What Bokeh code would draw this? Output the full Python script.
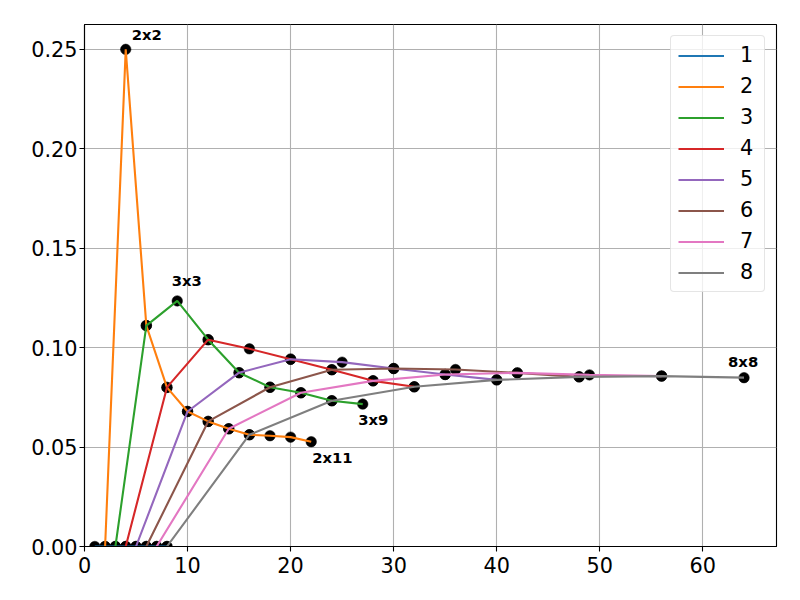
from bokeh.plotting import figure
from bokeh.models import Range1d, FixedTicker, PrintfTickFormatter
from bokeh.core.properties import value
from bokeh.embed import file_html
from bokeh.resources import INLINE

# ---- data ----
series_names = ["1", "2", "3", "4", "5", "6", "7", "8"]
x1 = [1, 2, 3, 4, 5, 6, 7, 8]
y1 = [0.0, 0.0, 0.0, 0.0, 0.0, 0.0, 0.0, 0.0]
x2 = [2, 4, 6, 8, 10, 12, 14, 16, 18, 20, 22]
y2 = [0.0, 0.25, 0.1111, 0.0800, 0.0679, 0.0629, 0.0592, 0.0562, 0.0557, 0.0550, 0.0527]
x3 = [3, 6, 9, 12, 15, 18, 21, 24, 27]
y3 = [0.0, 0.1111, 0.1235, 0.1040, 0.0874, 0.0801, 0.0773, 0.0733, 0.0716]
x4 = [4, 8, 12, 16, 20, 24, 28, 32]
y4 = [0.0, 0.0800, 0.1040, 0.0994, 0.0942, 0.0889, 0.0833, 0.0803]
x5 = [5, 10, 15, 20, 25, 30, 35, 40]
y5 = [0.0, 0.0679, 0.0874, 0.0942, 0.0927, 0.0895, 0.0865, 0.0838]
x6 = [6, 12, 18, 24, 30, 36, 42, 48]
y6 = [0.0, 0.0629, 0.0801, 0.0889, 0.0895, 0.0890, 0.0873, 0.0853]
x7 = [7, 14, 21, 28, 35, 42, 49, 56]
y7 = [0.0, 0.0592, 0.0773, 0.0833, 0.0865, 0.0873, 0.0863, 0.0857]
x8 = [8, 16, 24, 32, 40, 48, 56, 64]
y8 = [0.0, 0.0562, 0.0733, 0.0803, 0.0838, 0.0853, 0.0857, 0.0849]

x_ticks = [0, 10, 20, 30, 40, 50, 60]
y_ticks = [0.0, 0.05, 0.10, 0.15, 0.20, 0.25]

# annotations: (label, series index, point index)
annotations = [("2x2", 1, 1), ("3x3", 2, 2), ("3x9", 2, 8), ("2x11", 1, 10), ("8x8", 7, 7)]

# ---- styling ----
colors = ["#1f77b4", "#ff7f0e", "#2ca02c", "#d62728", "#9467bd", "#8c564b", "#e377c2", "#7f7f7f"]
label_offsets = {"2x2": (6, -14.5), "3x3": (-5.5, -20), "3x9": (-4.5, 15.5), "2x11": (1, 15.5), "8x8": (-16, -16.5)}
FONT = "DejaVu Sans"

xs = [x1, x2, x3, x4, x5, x6, x7, x8]
ys = [y1, y2, y3, y4, y5, y6, y7, y8]

p = figure(width=784, height=584, output_backend="svg", toolbar_location=None,
           x_range=Range1d(0, 67.15), y_range=Range1d(0, 0.2625),
           min_border_left=84, min_border_right=8, min_border_top=24, min_border_bottom=38)
p.background_fill_color = "white"
p.border_fill_color = "white"
p.outline_line_color = "black"
p.outline_line_width = 1.1

for ax in (p.xaxis[0], p.yaxis[0]):
    ax.axis_line_color = "black"
    ax.axis_line_width = 1.1
    ax.major_tick_out = 5
    ax.major_tick_in = 0
    ax.major_tick_line_width = 1.1
    ax.minor_tick_line_color = None
    ax.major_label_text_font = FONT
    ax.major_label_text_font_size = "20.8px"
    ax.major_label_text_color = "black"

p.xaxis.ticker = FixedTicker(ticks=x_ticks)
p.yaxis.ticker = FixedTicker(ticks=y_ticks)
p.yaxis.formatter = PrintfTickFormatter(format="%.2f")
p.xaxis.major_label_standoff = 5
p.yaxis.major_label_standoff = 2

p.xgrid.ticker = FixedTicker(ticks=x_ticks)
p.ygrid.ticker = FixedTicker(ticks=y_ticks)
for g in (p.xgrid[0], p.ygrid[0]):
    g.grid_line_color = "#b0b0b0"
    g.grid_line_width = 1.1

# dots first (matplotlib draws scatter beneath lines)
for x, y in zip(xs, ys):
    p.scatter(x, y, size=10.5, fill_color="black", line_color="black", line_width=0.5)

for x, y, c, name in zip(xs, ys, colors, series_names):
    p.line(x, y, line_color=c, line_width=2.1, legend_label=name)

for text, si, pi in annotations:
    dx, dy = label_offsets[text]
    p.text(x=[xs[si][pi]], y=[ys[si][pi]], text=[text], x_offset=dx, y_offset=dy,
           text_font=value(FONT), text_font_style="bold", text_font_size="14.8px",
           text_color="black", text_align="left", text_baseline="alphabetic")

lg = p.legend[0]
lg.location = "top_right"
lg.margin = 11
lg.padding = 7
lg.spacing = 7
lg.label_height = 21
lg.glyph_height = 21
lg.glyph_width = 46
lg.label_width = 17
lg.label_standoff = 16
lg.label_text_font = FONT
lg.label_text_font_size = "20.8px"
lg.label_text_color = "black"
lg.border_line_color = "#cccccc"
lg.border_line_width = 1
lg.background_fill_color = "white"
lg.background_fill_alpha = 0.8
if "border_radius" in lg.properties():
    lg.border_radius = 4

open("out.html", "w").write(file_html(p, INLINE))
